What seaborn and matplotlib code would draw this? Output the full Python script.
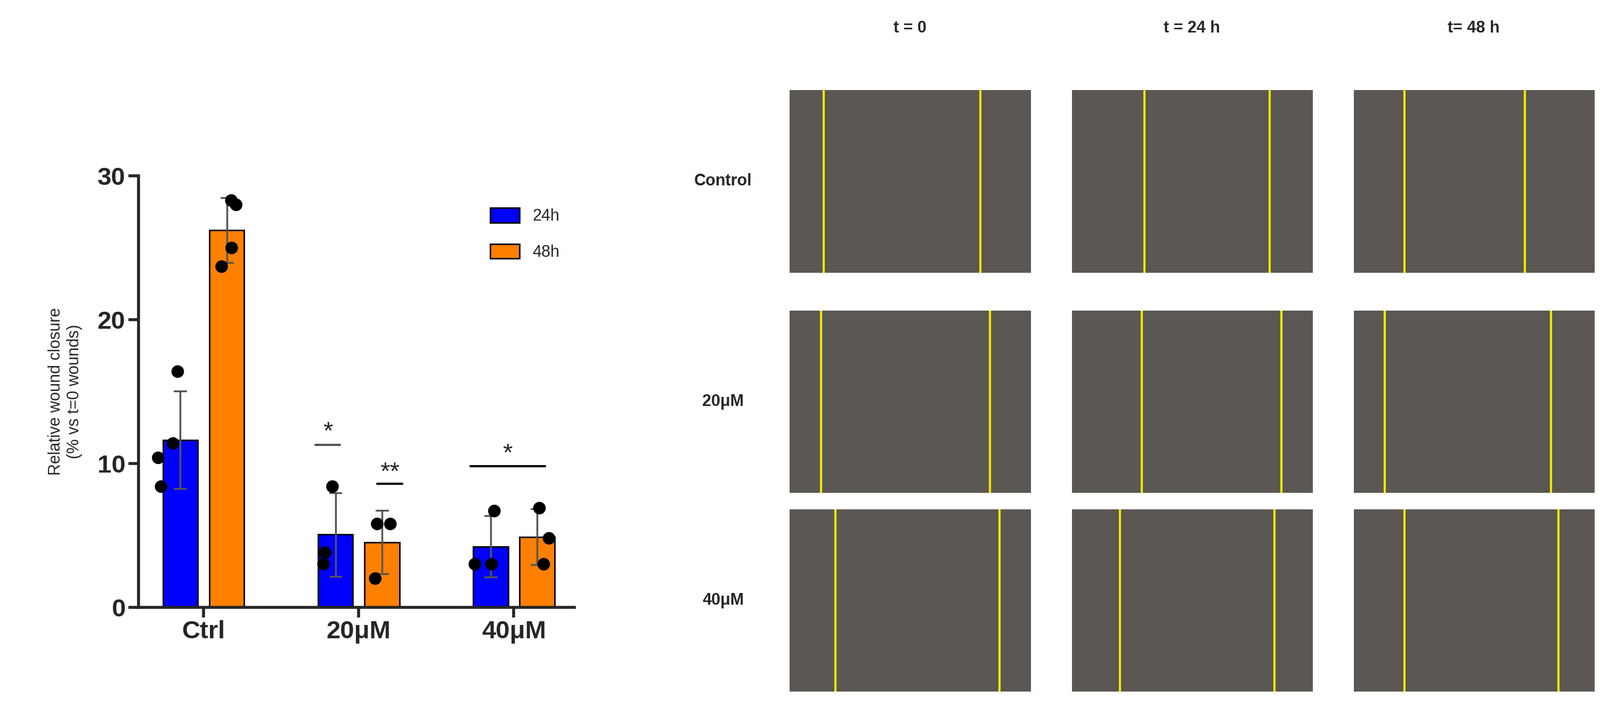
import matplotlib
matplotlib.use("Agg")
import matplotlib.pyplot as plt
import seaborn as sns
import pandas as pd

groups = ["Ctrl", "Ctrl", "Ctrl", "Ctrl", "Ctrl", "Ctrl", "Ctrl", "Ctrl",
          "20μM", "20μM", "20μM", "20μM", "20μM", "20μM",
          "40μM", "40μM", "40μM", "40μM", "40μM", "40μM"]
times = ["24h"] * 4 + ["48h"] * 4 + ["24h"] * 3 + ["48h"] * 3 + ["24h"] * 3 + ["48h"] * 3
values = [16.4, 11.4, 10.4, 8.4, 28.0, 28.3, 25.0, 23.7,
          8.4, 3.0, 3.8, 5.8, 5.8, 2.0,
          6.7, 3.0, 3.0, 6.9, 4.8, 3.0]
col_titles = ["t = 0", "t = 24 h", "t= 48 h"]
row_titles = ["Control", "20μM", "40μM"]
# yellow wound-edge lines, fraction of panel width [row][col]
edges = [[(0.14, 0.79), (0.30, 0.82), (0.21, 0.71)],
         [(0.13, 0.83), (0.29, 0.87), (0.13, 0.82)],
         [(0.19, 0.87), (0.20, 0.84), (0.21, 0.85)]]

df = pd.DataFrame({"group": groups, "time": times, "value": values})
sns.set_theme(style="ticks")
plt.rcParams["font.family"] = ["Liberation Sans", "DejaVu Sans"]

fig = plt.figure(figsize=(30.03, 13.27), dpi=100)
ax = fig.add_axes([0.0865, 0.141, 0.2725, 0.61])
pal = {"24h": "#0000ff", "48h": "#ff8000"}
sns.barplot(data=df, x="group", y="value", hue="time", palette=pal, errorbar="sd",
            capsize=0.15, err_kws={"color": "#555555", "linewidth": 2.5},
            edgecolor="black", linewidth=2, width=0.6, gap=0.25, ax=ax, saturation=1)
sns.stripplot(data=df, x="group", y="value", hue="time", dodge=True, color="black",
              palette={"24h": "black", "48h": "black"}, size=17, jitter=0.2, ax=ax, legend=False)
ax.set_ylim(0, 30)
ax.set_yticks([0, 10, 20, 30])
ax.set_xlabel("")
ax.set_ylabel("Relative wound closure\n(% vs t=0 wounds)", fontsize=22, labelpad=20)
ax.tick_params(axis="both", labelsize=34, width=4, length=14)
for lab in ax.get_xticklabels() + ax.get_yticklabels():
    lab.set_fontweight("bold")
for s in ["top", "right"]:
    ax.spines[s].set_visible(False)
for s in ["left", "bottom"]:
    ax.spines[s].set_linewidth(4)
h, l = ax.get_legend_handles_labels()
ax.legend(h[:2], l[:2], loc="upper right", bbox_to_anchor=(1.0, 0.96), fontsize=22,
          frameon=False, handlelength=1.8, handleheight=1.0, labelspacing=1.2)
# significance marks
ax.plot([0.72, 0.88], [11.3, 11.3], color="#555555", lw=3)
ax.text(0.8, 11.7, "*", ha="center", fontsize=34)
ax.plot([1.12, 1.28], [8.6, 8.6], color="black", lw=3)
ax.text(1.2, 8.9, "**", ha="center", fontsize=34)
ax.plot([1.72, 2.2], [9.8, 9.8], color="black", lw=3)
ax.text(1.96, 10.2, "*", ha="center", fontsize=34)

lefts = [0.4936, 0.670, 0.846]
bottoms = [0.6145, 0.303, 0.0217]
for c, t in enumerate(col_titles):
    fig.text(lefts[c] + 0.075, 0.96, t, ha="center", va="center", fontsize=22, fontweight="bold")
for r, t in enumerate(row_titles):
    fig.text(0.452, bottoms[r] + 0.129, t, ha="center", va="center", fontsize=22, fontweight="bold")
    for c in range(3):
        pa = fig.add_axes([lefts[c], bottoms[r], 0.1506, 0.258])
        pa.set_facecolor("#5b5752")
        pa.set_xlim(0, 1); pa.set_ylim(0, 1)
        for e in edges[r][c]:
            pa.axvline(e, color="#f2e600", lw=3)
        pa.set_xticks([]); pa.set_yticks([])
        for s in pa.spines.values():
            s.set_visible(False)

fig.savefig("out.png", dpi=100)
